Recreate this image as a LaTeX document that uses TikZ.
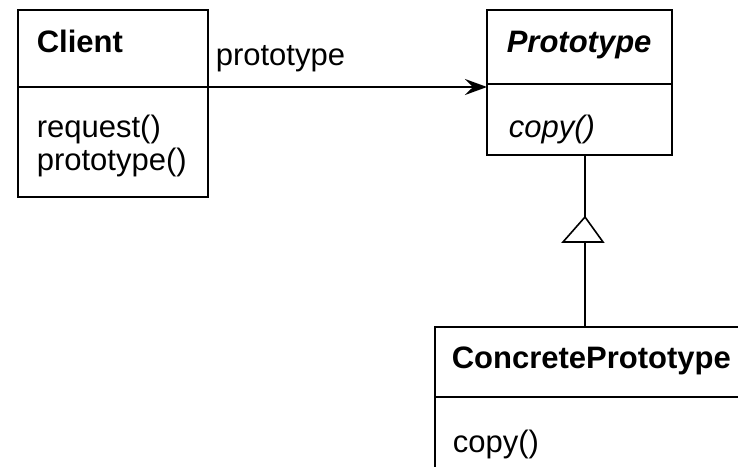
\documentclass[tikz,border=0pt]{standalone}
\usepackage{fontspec}
\setmainfont{Liberation Sans}
\usetikzlibrary{arrows.meta}
\begin{document}
\begin{tikzpicture}[x=1pt,y=-1pt,
  line width=1.6pt,
  classbox/.style={draw, rectangle, inner sep=0pt, outer sep=0pt, anchor=north west},
  txt/.style={anchor=base west, inner sep=0pt, font=\fontsize{31}{36}\selectfont},
  assoc/.style={-{Stealth[length=22pt,width=16pt,inset=8pt]}}]
\useasboundingbox (0,0) rectangle (738,466);
\clip (0,0) rectangle (738,466);

% Client class
\node[classbox, minimum width=190pt, minimum height=187pt] (client) at (18,10) {};
\draw (client.west |- 0,87) -- (client.east |- 0,87);
\node[txt, font=\fontsize{31}{36}\selectfont\bfseries] (clientname) at (36,52) {Client};
\node[txt] (req) at (36,137) {request()};
\node[txt] (protoop) at (36,170) {prototype()};

% Prototype class (abstract)
\node[classbox, minimum width=185pt, minimum height=145pt] (proto) at (487,10) {};
\draw (proto.west |- 0,84) -- (proto.east |- 0,84);
\node[txt, font=\fontsize{31}{36}\selectfont\bfseries\itshape] (protoname) at (506,52) {Prototype};
\node[txt, font=\fontsize{31}{36}\selectfont\itshape] (protocopy) at (508,137) {copy()};

% ConcretePrototype class
\node[classbox, minimum width=330pt, minimum height=170pt] (concrete) at (435,327) {};
\draw (concrete.west |- 0,397) -- ([xshift=20pt]concrete.east |- 0,397);
\node[txt, font=\fontsize{31}{36}\selectfont\bfseries] (concname) at (451,368) {ConcretePrototype};
\node[txt] (conccopy) at (452,452) {copy()};

% association Client -> Prototype
\coordinate (aend) at (proto.west |- 0,87);
\draw[assoc] (client.east |- aend) -- (aend);
\node[txt] (rolename) at (215,65) {prototype};

% generalization ConcretePrototype -> Prototype
\coordinate (apex) at (585,217);
\coordinate (tbase) at (585,242);
\draw (proto.south -| apex) -- (apex);
\draw[line join=miter] (apex) -- (563,242) -- (603,242) -- cycle;
\draw (concrete.north -| tbase) -- (tbase);
\end{tikzpicture}
\end{document}
